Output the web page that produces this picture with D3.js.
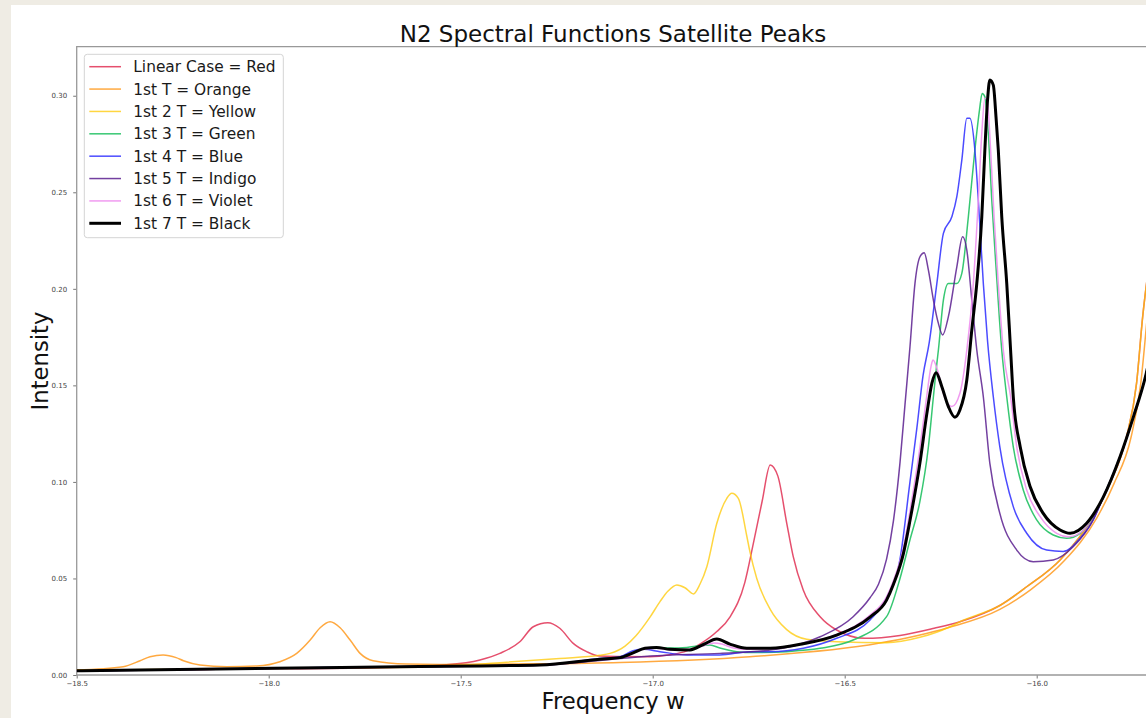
<!DOCTYPE html>
<html lang="en">
<head>
    <meta charset="utf-8">
    <script src='https://d3js.org/d3.v7.min.js'></script>
</head>
<style>
body { margin: 0; background: #efece4; }
text { font-family: "DejaVu Sans", sans-serif; }
</style>
<body>
<script>
// Set Dimensions
const width = 1146; const height = 718;
const plotLeft = 76.7, plotRight = 1151.9, plotTop = 46.7, plotBottom = 675;

// Data: [frequency w, intensity]
const red = [[-18.500,0.0023],[-18.179,0.0028],[-18.023,0.0034],[-17.918,0.0033],[-17.658,0.0040],[-17.554,0.0050],[-17.450,0.0078],[-17.398,0.0112],[-17.346,0.0172],[-17.311,0.0250],[-17.273,0.0271],[-17.242,0.0242],[-17.207,0.0164],[-17.172,0.0121],[-17.138,0.0098],[-17.085,0.0096],[-17.007,0.0095],[-16.955,0.0105],[-16.911,0.0125],[-16.877,0.0160],[-16.833,0.0225],[-16.799,0.0300],[-16.760,0.0480],[-16.738,0.0680],[-16.715,0.0900],[-16.694,0.1088],[-16.674,0.1030],[-16.651,0.0787],[-16.634,0.0613],[-16.608,0.0440],[-16.564,0.0302],[-16.521,0.0233],[-16.448,0.0190],[-16.356,0.0205],[-16.267,0.0242],[-16.200,0.0276],[-16.096,0.0360],[-16.026,0.0457],[-15.939,0.0596],[-15.853,0.0820],[-15.809,0.0993],[-15.766,0.1234],[-15.740,0.1510],[-15.724,0.1856],[-15.706,0.2150]];
const orange = [[-18.500,0.0026],[-18.379,0.0043],[-18.335,0.0074],[-18.309,0.0095],[-18.275,0.0104],[-18.241,0.0090],[-18.222,0.0074],[-18.179,0.0052],[-18.109,0.0043],[-18.031,0.0047],[-17.971,0.0069],[-17.927,0.0112],[-17.892,0.0181],[-17.866,0.0245],[-17.840,0.0276],[-17.814,0.0245],[-17.788,0.0181],[-17.762,0.0112],[-17.728,0.0074],[-17.641,0.0057],[-17.554,0.0055],[-17.293,0.0058],[-17.085,0.0065],[-16.747,0.0095],[-16.412,0.0164],[-16.231,0.0245],[-16.096,0.0340],[-16.017,0.0440],[-15.929,0.0590],[-15.843,0.0815],[-15.799,0.0990],[-15.754,0.1234],[-15.729,0.1510],[-15.712,0.1856],[-15.700,0.2100]];
const yellow = [[-18.500,0.0024],[-18.000,0.0034],[-17.606,0.0040],[-17.398,0.0064],[-17.242,0.0086],[-17.138,0.0102],[-17.111,0.0112],[-17.072,0.0150],[-17.043,0.0205],[-17.007,0.0300],[-16.981,0.0380],[-16.960,0.0435],[-16.937,0.0466],[-16.916,0.0452],[-16.894,0.0420],[-16.877,0.0470],[-16.859,0.0561],[-16.833,0.0786],[-16.807,0.0915],[-16.794,0.0941],[-16.777,0.0915],[-16.755,0.0720],[-16.747,0.0640],[-16.729,0.0500],[-16.694,0.0340],[-16.651,0.0235],[-16.599,0.0185],[-16.521,0.0172],[-16.391,0.0167],[-16.304,0.0195],[-16.226,0.0250],[-16.200,0.0276],[-16.096,0.0360],[-16.026,0.0457],[-15.939,0.0596],[-15.853,0.0820],[-15.809,0.0993],[-15.766,0.1234],[-15.740,0.1510],[-15.724,0.1856],[-15.706,0.2150]];
const green = [[-18.500,0.0022],[-17.989,0.0035],[-17.658,0.0043],[-17.293,0.0052],[-17.138,0.0082],[-17.085,0.0092],[-17.051,0.0117],[-17.020,0.0137],[-16.990,0.0142],[-16.955,0.0140],[-16.911,0.0143],[-16.877,0.0152],[-16.851,0.0155],[-16.825,0.0140],[-16.781,0.0121],[-16.738,0.0116],[-16.651,0.0121],[-16.564,0.0138],[-16.478,0.0181],[-16.391,0.0302],[-16.356,0.0500],[-16.330,0.0700],[-16.304,0.0900],[-16.282,0.1182],[-16.269,0.1441],[-16.260,0.1614],[-16.256,0.1683],[-16.243,0.1942],[-16.230,0.2028],[-16.208,0.2028],[-16.195,0.2080],[-16.178,0.2373],[-16.161,0.2719],[-16.149,0.2926],[-16.142,0.3012],[-16.135,0.2995],[-16.126,0.2805],[-16.117,0.2460],[-16.106,0.2114],[-16.091,0.1683],[-16.078,0.1441],[-16.061,0.1182],[-16.035,0.0958],[-16.000,0.0803],[-15.957,0.0725],[-15.922,0.0708],[-15.887,0.0734],[-15.853,0.0820],[-15.827,0.0920],[-15.783,0.1130],[-15.748,0.1338],[-15.715,0.1560],[-15.700,0.1700]];
const blue = [[-18.500,0.0022],[-17.989,0.0035],[-17.658,0.0043],[-17.293,0.0053],[-17.138,0.0085],[-17.085,0.0095],[-17.051,0.0126],[-17.024,0.0133],[-16.981,0.0121],[-16.911,0.0104],[-16.825,0.0104],[-16.747,0.0121],[-16.694,0.0120],[-16.608,0.0138],[-16.521,0.0190],[-16.434,0.0285],[-16.391,0.0400],[-16.356,0.0600],[-16.330,0.1000],[-16.312,0.1280],[-16.296,0.1550],[-16.280,0.1720],[-16.260,0.2028],[-16.243,0.2287],[-16.221,0.2373],[-16.208,0.2477],[-16.195,0.2667],[-16.182,0.2883],[-16.174,0.2883],[-16.161,0.2719],[-16.152,0.2460],[-16.139,0.2028],[-16.128,0.1730],[-16.113,0.1441],[-16.096,0.1182],[-16.061,0.0872],[-16.026,0.0734],[-15.974,0.0647],[-15.931,0.0640],[-15.887,0.0708],[-15.853,0.0803],[-15.827,0.0920],[-15.783,0.1130],[-15.748,0.1338],[-15.715,0.1560],[-15.700,0.1700]];
const indigo = [[-18.500,0.0021],[-17.989,0.0034],[-17.658,0.0042],[-17.293,0.0050],[-17.138,0.0075],[-17.085,0.0085],[-17.007,0.0098],[-16.825,0.0112],[-16.694,0.0129],[-16.564,0.0198],[-16.478,0.0302],[-16.434,0.0400],[-16.412,0.0470],[-16.391,0.0600],[-16.373,0.0800],[-16.356,0.1100],[-16.343,0.1400],[-16.330,0.1700],[-16.317,0.2028],[-16.304,0.2166],[-16.293,0.2187],[-16.282,0.2097],[-16.269,0.1942],[-16.256,0.1821],[-16.245,0.1761],[-16.230,0.1856],[-16.208,0.2114],[-16.193,0.2270],[-16.182,0.2201],[-16.169,0.1942],[-16.156,0.1683],[-16.139,0.1441],[-16.122,0.1096],[-16.096,0.0837],[-16.052,0.0647],[-16.009,0.0587],[-15.957,0.0596],[-15.905,0.0664],[-15.853,0.0803],[-15.827,0.0920],[-15.783,0.1130],[-15.748,0.1338],[-15.715,0.1560],[-15.700,0.1700]];
const violet = [[-18.500,0.0022],[-17.989,0.0035],[-17.658,0.0043],[-17.293,0.0052],[-17.138,0.0082],[-17.085,0.0090],[-17.051,0.0114],[-17.020,0.0135],[-16.990,0.0138],[-16.955,0.0130],[-16.903,0.0132],[-16.868,0.0152],[-16.840,0.0166],[-16.820,0.0160],[-16.790,0.0140],[-16.755,0.0133],[-16.694,0.0136],[-16.608,0.0162],[-16.521,0.0210],[-16.434,0.0310],[-16.391,0.0405],[-16.373,0.0490],[-16.347,0.0660],[-16.330,0.0850],[-16.304,0.1180],[-16.286,0.1450],[-16.275,0.1600],[-16.270,0.1631],[-16.260,0.1590],[-16.240,0.1440],[-16.221,0.1390],[-16.200,0.1459],[-16.182,0.1683],[-16.165,0.2028],[-16.152,0.2460],[-16.143,0.2805],[-16.135,0.2987],[-16.129,0.2978],[-16.120,0.2719],[-16.111,0.2373],[-16.100,0.2028],[-16.087,0.1683],[-16.068,0.1441],[-16.052,0.1182],[-16.026,0.0958],[-15.991,0.0820],[-15.948,0.0734],[-15.918,0.0716],[-15.883,0.0742],[-15.853,0.0825],[-15.827,0.0920],[-15.783,0.1130],[-15.748,0.1338],[-15.715,0.1560],[-15.700,0.1700]];
const black = [[-18.500,0.0022],[-17.989,0.0035],[-17.658,0.0043],[-17.293,0.0052],[-17.138,0.0082],[-17.085,0.0090],[-17.051,0.0115],[-17.020,0.0138],[-16.990,0.0143],[-16.955,0.0133],[-16.903,0.0130],[-16.868,0.0158],[-16.833,0.0186],[-16.799,0.0160],[-16.755,0.0138],[-16.694,0.0138],[-16.608,0.0162],[-16.521,0.0207],[-16.434,0.0300],[-16.391,0.0388],[-16.373,0.0470],[-16.347,0.0630],[-16.330,0.0800],[-16.304,0.1100],[-16.286,0.1355],[-16.273,0.1510],[-16.262,0.1566],[-16.247,0.1493],[-16.230,0.1390],[-16.213,0.1335],[-16.200,0.1372],[-16.182,0.1528],[-16.169,0.1787],[-16.156,0.2028],[-16.143,0.2373],[-16.135,0.2719],[-16.128,0.2978],[-16.122,0.3081],[-16.113,0.3055],[-16.106,0.2891],[-16.100,0.2719],[-16.091,0.2373],[-16.078,0.2028],[-16.068,0.1683],[-16.061,0.1441],[-16.043,0.1182],[-16.017,0.0975],[-15.983,0.0837],[-15.939,0.0751],[-15.913,0.0734],[-15.870,0.0786],[-15.827,0.0920],[-15.783,0.1130],[-15.748,0.1338],[-15.715,0.1560],[-15.700,0.1700]];

const labels = ["Linear Case = Red", "1st T = Orange", "1st 2 T = Yellow", "1st 3 T = Green",
                "1st 4 T = Blue", "1st 5 T = Indigo", "1st 6 T = Violet", "1st 7 T = Black"];
const colours = ["#dc143c", "#ff8c00", "#ffc800", "#2cc46a", "#2b2bff", "#5a1f8f", "#ee90ee", "#000000"];
const opacities = [0.75, 0.75, 0.75, 0.95, 0.85, 0.85, 0.9, 1];
const widths = [1.5, 1.5, 1.5, 1.5, 1.5, 1.5, 1.5, 3];
const xTicks = [-18.5, -18.0, -17.5, -17.0, -16.5, -16.0];
const yTicks = [0, 0.05, 0.10, 0.15, 0.20, 0.25, 0.30];

const series = [red, orange, yellow, green, blue, indigo, violet, black];

const svg = d3.select("body")
  .append("svg")
  .attr("width", width)
  .attr("height", height);

// white figure area
svg.append("rect")
  .attr("x", 11).attr("y", 5)
  .attr("width", width - 11).attr("height", height - 5)
  .attr("fill", "#ffffff");

const x = d3.scaleLinear().domain([-18.5, -15.7]).range([plotLeft, plotRight]);
const y = d3.scaleLinear().domain([0, 0.3254]).range([plotBottom, plotTop]);

svg.append("clipPath").attr("id", "plotclip")
  .append("rect")
  .attr("x", plotLeft).attr("y", plotTop)
  .attr("width", plotRight - plotLeft).attr("height", plotBottom - plotTop);

// axes
const xAxis = svg.append("g")
  .attr("transform", "translate(0," + plotBottom + ")")
  .call(d3.axisBottom(x).tickValues(xTicks).tickFormat(d3.format(".1f"))
    .tickSize(3.5).tickSizeOuter(0).tickPadding(3));
const yAxis = svg.append("g")
  .attr("transform", "translate(" + plotLeft + ",0)")
  .call(d3.axisLeft(y).tickValues(yTicks).tickFormat(d3.format(".2f"))
    .tickSize(3.5).tickSizeOuter(0).tickPadding(6));
[xAxis, yAxis].forEach(g => {
  g.select(".domain").remove();
  g.selectAll("line").attr("stroke", "#777");
  g.selectAll("text").attr("fill", "#444").style("font-size", "7px")
    .style("font-family", "DejaVu Sans");
});

// spines
svg.append("path")
  .attr("d", "M" + plotRight + "," + plotTop + "H" + plotLeft + "V" + plotBottom + "H" + plotRight)
  .attr("fill", "none")
  .attr("stroke", "#999999")
  .attr("stroke-width", 1.3);

// curves
const line = d3.line()
  .x(d => x(d[0]))
  .y(d => y(d[1]))
  .curve(d3.curveMonotoneX);

const plot = svg.append("g").attr("clip-path", "url(#plotclip)");
series.forEach((data, i) => {
  plot.append("path")
    .datum(data)
    .attr("fill", "none")
    .attr("stroke", colours[i])
    .attr("stroke-opacity", opacities[i])
    .attr("stroke-width", widths[i])
    .attr("stroke-linejoin", "round")
    .attr("d", line);
});

// titles
svg.append("text")
  .attr("x", 613).attr("y", 42)
  .attr("text-anchor", "middle")
  .style("font-size", "23px")
  .attr("fill", "#111")
  .text("N2 Spectral Functions Satellite Peaks");
svg.append("text")
  .attr("x", 613).attr("y", 709)
  .attr("text-anchor", "middle")
  .style("font-size", "22.7px")
  .attr("fill", "#111")
  .text("Frequency w");
svg.append("text")
  .attr("transform", "translate(48,361) rotate(-90)")
  .attr("text-anchor", "middle")
  .style("font-size", "22.7px")
  .attr("fill", "#111")
  .text("Intensity");

// legend
const legend = svg.append("g");
legend.append("rect")
  .attr("x", 84.3).attr("y", 54.3)
  .attr("width", 199).attr("height", 183.4)
  .attr("rx", 3)
  .attr("fill", "#ffffff").attr("fill-opacity", 0.85)
  .attr("stroke", "#d4d4d4");
labels.forEach((lab, i) => {
  const ry = 66.7 + i * 22.37;
  legend.append("line")
    .attr("x1", 89.3).attr("x2", 121)
    .attr("y1", ry).attr("y2", ry)
    .attr("stroke", colours[i])
    .attr("stroke-opacity", opacities[i])
    .attr("stroke-width", widths[i]);
  legend.append("text")
    .attr("x", 133.3).attr("y", ry)
    .attr("dy", "0.36em")
    .style("font-size", "15.4px")
    .attr("fill", "#1a1a1a")
    .text(lab);
});
</script>
</body>
</html>
